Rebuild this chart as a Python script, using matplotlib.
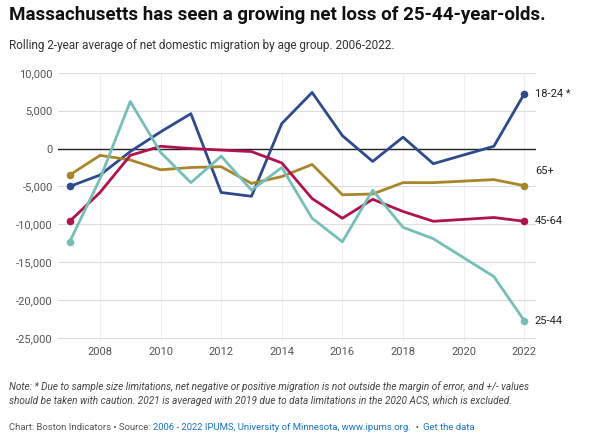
import matplotlib.pyplot as plt

years = [2007, 2008, 2009, 2010, 2011, 2012, 2013, 2014, 2015, 2016, 2017, 2018, 2019, 2021, 2022]
age_18_24 = [-5000, -3500, -400, 2200, 4600, -5800, -6300, 3300, 7400, 1700, -1700, 1500, -2000, 300, 7200]
age_25_44 = [-12300, -4000, 6200, -500, -4500, -1000, -5500, -2500, -9200, -12300, -5500, -10400, -11900, -16900, -22700]
age_45_64 = [-9600, -5800, -900, 300, 0, -200, -400, -1900, -6600, -9200, -6700, -8300, -9600, -9100, -9600]
age_65 = [-3500, -900, -1500, -2800, -2500, -2400, -4600, -3700, -2100, -6100, -6000, -4500, -4500, -4100, -4900]

series = [
    ("18-24 *", age_18_24, "#2e4a8c"),
    ("65+", age_65, "#a8862a"),
    ("45-64", age_45_64, "#b0124e"),
    ("25-44", age_25_44, "#76bfb8"),
]
label_dy = {"18-24 *": 0, "65+": 2000, "45-64": 0, "25-44": 0}

plt.rcParams["font.family"] = ["Roboto", "DejaVu Sans"]
fig = plt.figure(figsize=(6.06, 4.41), dpi=100)
ax = fig.add_axes([0.095, 0.225, 0.79, 0.61])

ax.axhline(0, color="#222222", lw=1, zorder=1)
for name, vals, c in series:
    ax.plot(years, vals, color=c, lw=2, zorder=3)
    ax.scatter([years[0], years[-1]], [vals[0], vals[-1]], color=c, s=20, zorder=4)
    ax.text(2022.35, vals[-1] + label_dy[name], name, fontsize=8, va="center", color="#222222")

ax.set_xlim(2006.6, 2022.4)
ax.set_ylim(-25500, 10000)
ax.set_xticks(range(2008, 2023, 2))
ax.set_yticks(range(-25000, 10001, 5000))
ax.set_yticklabels([f"{v:,}" for v in range(-25000, 10001, 5000)])
ax.tick_params(labelsize=8, colors="#555555", length=0)
ax.grid(axis="y", color="#dddddd", lw=0.8)
ax.grid(axis="x", color="#eeeeee", lw=0.6)
ax.set_axisbelow(True)
for s in ax.spines.values():
    s.set_visible(False)

fig.text(0.015, 0.955, "Massachusetts has seen a growing net loss of 25-44-year-olds.",
         fontsize=13.5, fontweight="bold", color="#111111")
fig.text(0.015, 0.89, "Rolling 2-year average of net domestic migration by age group. 2006-2022.",
         fontsize=8.5, color="#333333")
fig.text(0.015, 0.085, "Note: * Due to sample size limitations, net negative or positive migration is not outside the margin of error, and +/- values\n"
         "should be taken with caution. 2021 is averaged with 2019 due to data limitations in the 2020 ACS, which is excluded.",
         fontsize=7.2, style="italic", color="#444444", linespacing=1.4)

# footer pieces chained one after another
parts = [("Chart: Boston Indicators • Source: ", "#555555"),
         ("2006 - 2022 IPUMS, University of Minnesota, www.ipums.org.", "#1a73c8"),
         ("  •  ", "#555555"),
         ("Get the data", "#1a73c8")]
prev = fig.text(0.015, 0.02, parts[0][0], fontsize=6.8, color=parts[0][1], va="bottom")
for txt, c in parts[1:]:
    prev = fig.text(0, 0, "", fontsize=6.8) if False else ax.annotate(
        txt, xy=(1, 0), xycoords=prev, va="bottom", fontsize=6.8, color=c,
        annotation_clip=False)

fig.savefig("out.png", dpi=100)
